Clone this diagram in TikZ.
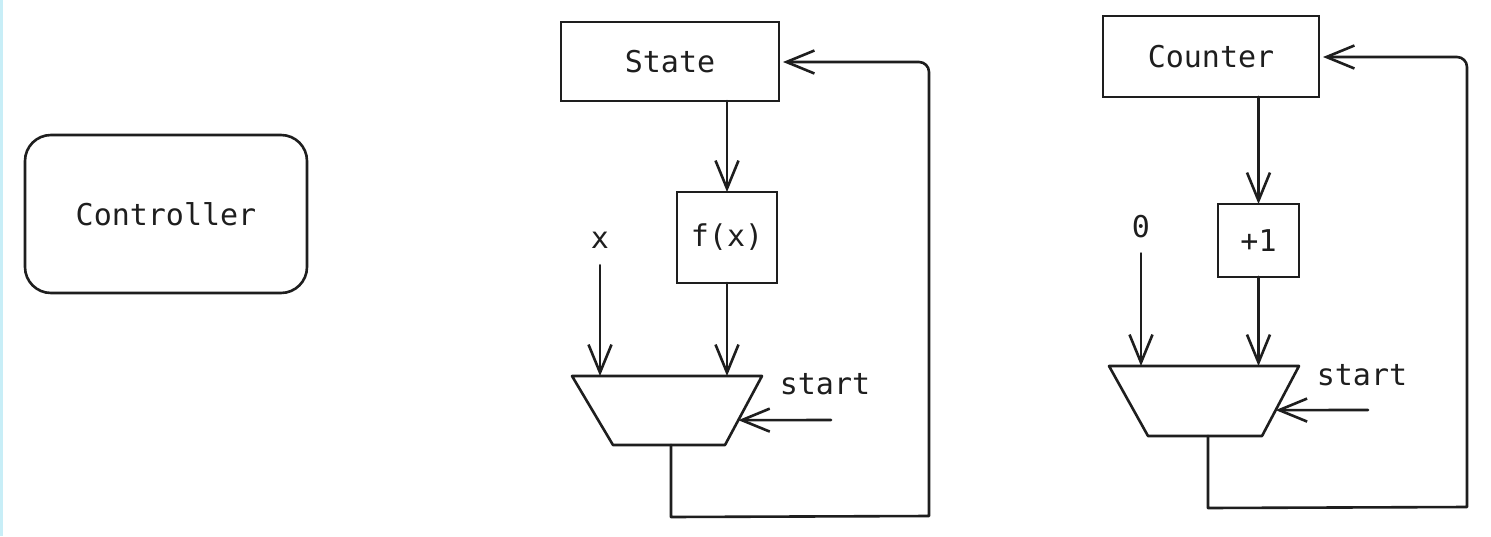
\documentclass[tikz,border=0pt]{standalone}
\usepackage{fontspec}
\setmonofont{DejaVu Sans Mono}
\usetikzlibrary{arrows.meta,calc}
\definecolor{ink}{RGB}{30,30,30}
\definecolor{edgeblue}{RGB}{200,238,247}
\begin{document}
\begin{tikzpicture}[
  x=1pt, y=-1pt,
  font=\ttfamily\fontsize{30}{36}\selectfont,
  text=ink,
  wire/.style={draw=ink, line width=2.6pt, line join=round, line cap=round},
  arr/.style={wire, -{Straight Barb[length=28pt,width=23pt]}},
  blockbox/.style={draw=ink, line width=2.6pt, inner sep=0pt, outer sep=0pt},
  lbl/.style={inner sep=0pt, outer sep=0pt}
]
% canvas
\useasboundingbox (0,0) rectangle (1491,536);
\fill[white] (0,0) rectangle (1491,536);
\fill[edgeblue] (0,0) rectangle (2.5,536);

% controller
\node[blockbox, rounded corners=26pt, minimum width=282pt, minimum height=158pt] (ctrl) at (166,214) {Controller};

% ---------- state datapath ----------
\node[blockbox, minimum width=218pt, minimum height=79pt] (state) at (670,61.5) {State};
\node[blockbox, minimum width=100pt, minimum height=91pt] (fx) at (727,237.5) {f(x)};
\node[lbl] (xl) at (600,240) {x};
\node[lbl] (st1) at (825,384) {start};
% multiplexer corners
\coordinate (m1tl) at (572,376);
\coordinate (m1tr) at (762,376);
\coordinate (m1br) at (725,445);
\coordinate (m1bl) at (613,445);
\coordinate (m1out) at (671,445);
\coordinate (s1) at (831,420);
\draw[wire] (m1tl) -- (m1tr) -- (m1br) -- (m1bl) -- cycle;

\draw[arr] (fx.north |- state.south) -- (fx.north);
\draw[arr, shorten <=17pt] (xl.south) -- (xl.south |- m1tl);
\draw[arr] (fx.south) -- (fx.south |- m1tl);
\draw[arr] (s1) -- ($(m1tr)!0.64!(m1br)$);
\draw[arr, shorten >=4pt] (m1out) -- (671,517) -- (929,516)
  [rounded corners=10pt] -- (929,62) -- (state.east |- 0,62);

% ---------- counter datapath ----------
\node[blockbox, minimum width=216pt, minimum height=81pt] (cnt) at (1211,56.5) {Counter};
\node[blockbox, minimum width=81pt, minimum height=73pt] (inc) at (1258.5,240.5) {+1};
\node[lbl] (zl) at (1141,227) {0};
\node[lbl] (st2) at (1362,375) {start};
\coordinate (m2tl) at (1109,366);
\coordinate (m2tr) at (1299,366);
\coordinate (m2br) at (1262,436);
\coordinate (m2bl) at (1148,436);
\coordinate (m2out) at (1208,436);
\coordinate (s2) at (1368,410);
\draw[wire] (m2tl) -- (m2tr) -- (m2br) -- (m2bl) -- cycle;

\draw[arr] (inc.north |- cnt.south) -- (inc.north);
\draw[arr, shorten <=15pt] (zl.south) -- (zl.south |- m2tl);
\draw[arr] (inc.south) -- (inc.south |- m2tl);
\draw[arr] (s2) -- ($(m2tr)!0.63!(m2br)$);
\draw[arr, shorten >=4pt] (m2out) -- (1208,508) -- (1467,507)
  [rounded corners=10pt] -- (1467,57) -- (cnt.east |- 0,57);
\end{tikzpicture}
\end{document}
